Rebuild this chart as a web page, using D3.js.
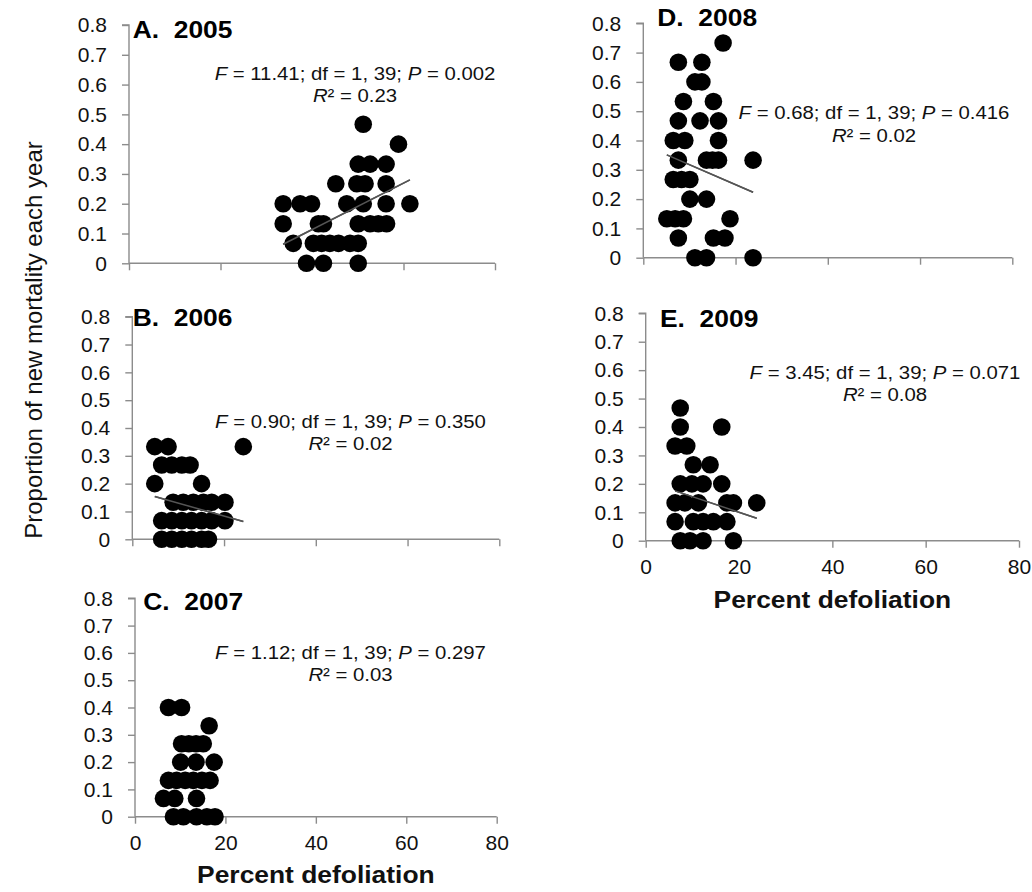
<!DOCTYPE html>
<html>
<head>
<meta charset="utf-8">
<script src="https://cdn.jsdelivr.net/npm/d3@7"></script>
<style>
  html, body { margin: 0; padding: 0; background: #fff; }
  svg { display: block; font-family: "Liberation Sans", Arial, sans-serif; }
</style>
</head>
<body>
<svg id="chart" width="1032" height="892"></svg>
<script>
// ---------------- DATA ----------------
const yTicks = [0, 0.1, 0.2, 0.3, 0.4, 0.5, 0.6, 0.7, 0.8];
const xTicks = [0, 20, 40, 60, 80];

const defol2005 = [51.2, 58.9, 50.1, 52.7, 56.2, 45.2, 49.8, 51.6, 56.2,
  33.7, 37.4, 39.9, 47.6, 51.2, 56.2, 61.4, 33.7, 41.4, 42.5, 50.1, 52.7, 54.5, 56.3,
  35.9, 40.3, 42.1, 43.9, 45.8, 48.3, 50.1, 38.8, 42.5, 50.1];
const mort2005 = [0.467, 0.4, 0.333, 0.333, 0.333, 0.267, 0.267, 0.267, 0.267,
  0.2, 0.2, 0.2, 0.2, 0.2, 0.2, 0.2, 0.133, 0.133, 0.133, 0.133, 0.133, 0.133, 0.133,
  0.067, 0.067, 0.067, 0.067, 0.067, 0.067, 0.067, 0, 0, 0];

const defol2006 = [4.9, 7.8, 24.2, 6.4, 8.6, 10.8, 12.6, 4.9, 15.1,
  8.9, 11.1, 13.3, 15.5, 17.3, 20.2, 6.4, 8.6, 10.8, 12.9, 15.1, 17.3, 20.2,
  6.4, 8.6, 10.8, 12.9, 15.1, 16.6];
const mort2006 = [0.333, 0.333, 0.333, 0.267, 0.267, 0.267, 0.267, 0.2, 0.2,
  0.133, 0.133, 0.133, 0.133, 0.133, 0.133, 0.067, 0.067, 0.067, 0.067, 0.067, 0.067, 0.067,
  0, 0, 0, 0, 0, 0];

const defol2007 = [7.4, 10.3, 16.4, 10.3, 11.9, 13.5, 15.1, 10.1, 13.5, 17.5,
  7.4, 9.2, 11.1, 12.9, 14.8, 16.6, 6.3, 8.8, 13.6, 8.5, 10.7, 13.6, 15.9, 17.7];
const mort2007 = [0.4, 0.4, 0.333, 0.267, 0.267, 0.267, 0.267, 0.2, 0.2, 0.2,
  0.133, 0.133, 0.133, 0.133, 0.133, 0.133, 0.067, 0.067, 0.067, 0, 0, 0, 0, 0];

const defol2008 = [17.3, 7.6, 12.7, 11.2, 12.7, 8.7, 15.2, 7.6, 12.3, 16.3,
  6.5, 9.0, 16.3, 7.6, 13.7, 15.0, 16.3, 23.8, 6.5, 8.3, 10.1, 10.1, 13.7,
  5.1, 6.9, 8.7, 18.8, 7.6, 15.2, 17.7, 11.2, 13.7, 23.8];
const mort2008 = [0.733, 0.667, 0.667, 0.6, 0.6, 0.533, 0.533, 0.467, 0.467, 0.467,
  0.4, 0.4, 0.4, 0.333, 0.333, 0.333, 0.333, 0.333, 0.267, 0.267, 0.267, 0.2, 0.2,
  0.133, 0.133, 0.133, 0.133, 0.067, 0.067, 0.067, 0, 0, 0];

const defol2009 = [7.4, 7.4, 16.3, 6.3, 8.8, 10.2, 13.8, 7.4, 9.9, 12.3, 16.3,
  6.3, 8.4, 11.3, 17.4, 18.8, 23.8, 6.3, 10.2, 12.3, 14.5, 17.4, 7.4, 9.5, 12.3, 18.8];
const mort2009 = [0.467, 0.4, 0.4, 0.333, 0.333, 0.267, 0.267, 0.2, 0.2, 0.2, 0.2,
  0.133, 0.133, 0.133, 0.133, 0.133, 0.133, 0.067, 0.067, 0.067, 0.067, 0.067, 0, 0, 0, 0];

const panelTitles = ["A.  2005", "B.  2006", "C.  2007", "D.  2008", "E.  2009"];
const statF  = ["11.41", "0.90", "1.12", "0.68", "3.45"];
const statP  = ["0.002", "0.350", "0.297", "0.416", "0.071"];
const statR2 = ["0.23", "0.02", "0.03", "0.02", "0.08"];
const trendSlope = [0.0078, -0.00468, -0.002, -0.00684, -0.0055];
const trendIntercept = [-0.199, 0.177, 0.165, 0.386, 0.21];

const yTitle = "Proportion of new mortality each year";
const xTitle = "Percent defoliation";

// ---------------- LAYOUT ----------------
const panels = [
  { xs: defol2005, ys: mort2005, x0: 129,   x1: 495,    y0: 263.3, y1: 25,    xLabels: false,
    title: [132.7, 37.5], stat: [355, 80, 101.7] },
  { xs: defol2006, ys: mort2006, x0: 132.3, x1: 499.3,  y0: 539.3, y1: 316.7, xLabels: false,
    title: [132.7, 326], stat: [350.5, 428.3, 450] },
  { xs: defol2007, ys: mort2007, x0: 135,   x1: 496.7,  y0: 816.7, y1: 598.3, xLabels: true,
    title: [143.3, 610], stat: [350.5, 659, 680.7], xTitleY: 883 },
  { xs: defol2008, ys: mort2008, x0: 643.3, x1: 1012.3, y0: 257.7, y1: 23.3,  xLabels: false,
    title: [657.3, 26], stat: [874, 119.3, 141.7] },
  { xs: defol2009, ys: mort2009, x0: 645.7, x1: 1019,   y0: 540.7, y1: 313.3, xLabels: true,
    title: [660, 327.3], stat: [885, 379.3, 401], xTitleY: 608 }
];

const svg = d3.select("#chart");
const axisColor = "#8c8c8c";
const stretch = 1.1;   // reference text is slightly wider than tall

function txt(parent, x, y) {
  return parent.append("text").attr("transform", `translate(${x},${y}) scale(${stretch},1)`);
}

panels.forEach((p, i) => {
  const x = d3.scaleLinear().domain([0, 80]).range([p.x0, p.x1]);
  const y = d3.scaleLinear().domain([0, 0.8]).range([p.y0, p.y1]);
  const g = svg.append("g");

  // Y axis
  const ya = g.append("g").attr("transform", `translate(${p.x0},0)`)
    .call(d3.axisLeft(y).tickValues(yTicks).tickSize(7).tickPadding(15)
      .tickFormat(d => d === 0 ? "0" : d3.format(".1f")(d)));
  // X axis
  const xa = g.append("g").attr("transform", `translate(0,${p.y0})`)
    .call(d3.axisBottom(x).tickValues(xTicks).tickSize(7).tickPadding(11)
      .tickFormat(d => p.xLabels ? String(d) : ""));
  [ya, xa].forEach(a => {
    a.select(".domain").attr("stroke", axisColor).attr("stroke-width", 1.4);
    a.selectAll(".tick line").attr("stroke", axisColor).attr("stroke-width", 1.4);
    a.selectAll(".tick text").attr("fill", "#111").style("font-size", "21px")
      .style("font-family", '"Liberation Sans", Arial, sans-serif');
  });
  ya.select(".domain").attr("d", `M-7,${y(0.8)}H0V${y(0)}`);
  xa.select(".domain").attr("d", `M${x(0)},0H${x(80)}`);

  // Trend line (under the dots)
  const xmin = d3.min(p.xs), xmax = d3.max(p.xs);
  const line = d3.line().x(d => x(d)).y(d => y(trendIntercept[i] + trendSlope[i] * d));
  g.append("path").datum([xmin, xmax]).attr("d", line)
    .attr("stroke", "#555").attr("stroke-width", 1.5).attr("fill", "none");

  // Dots
  const pts = p.xs.map((v, k) => [v, p.ys[k]]);
  g.append("g").selectAll("circle").data(pts).join("circle")
    .attr("cx", d => x(d[0])).attr("cy", d => y(d[1])).attr("r", 8.8)
    .attr("fill", "#000");

  // Trend line re-drawn on top where visible (except hidden one in C)
  if (i !== 2) {
    g.append("path").datum([xmin, xmax]).attr("d", line)
      .attr("stroke", "#555").attr("stroke-width", 1.5).attr("fill", "none");
  }

  // Title
  txt(g, p.title[0], p.title[1])
    .attr("font-weight", "bold").attr("font-size", 24).attr("fill", "#000")
    .attr("xml:space", "preserve").style("white-space", "pre")
    .text(panelTitles[i]);

  // Stats
  const t1 = txt(g, p.stat[0], p.stat[1])
    .attr("text-anchor", "middle").attr("font-size", 18.5).attr("fill", "#111");
  t1.append("tspan").attr("font-style", "italic").text("F");
  t1.append("tspan").text(` = ${statF[i]}; df = 1, 39; `);
  t1.append("tspan").attr("font-style", "italic").text("P");
  t1.append("tspan").text(` = ${statP[i]}`);
  const t2 = txt(g, p.stat[0], p.stat[2])
    .attr("text-anchor", "middle").attr("font-size", 18.5).attr("fill", "#111");
  t2.append("tspan").attr("font-style", "italic").text("R");
  t2.append("tspan").text(`² = ${statR2[i]}`);

  if (p.xTitleY) {
    txt(g, (p.x0 + p.x1) / 2, p.xTitleY)
      .attr("text-anchor", "middle").attr("font-weight", "bold").attr("font-size", 24)
      .attr("fill", "#111").text(xTitle);
  }
});

// Y title
svg.append("text").attr("transform", "translate(42,340) rotate(-90)")
  .attr("text-anchor", "middle").attr("font-size", 24).attr("fill", "#111")
  .text(yTitle);
</script>
</body>
</html>
